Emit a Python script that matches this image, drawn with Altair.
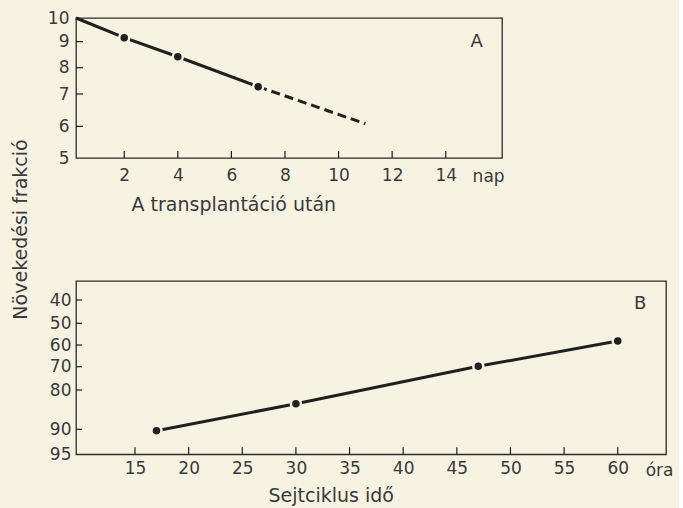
import altair as alt
import pandas as pd

# Panel A: growth fraction vs. days after transplantation
a_days_solid = [0.2, 2, 4, 7]
a_frac_solid = [10.0, 9.17, 8.42, 7.28]
a_days_dash = [7, 11]
a_frac_dash = [7.28, 6.08]
a_dot_days = [2, 4, 7]
a_dot_frac = [9.17, 8.42, 7.28]
a_x_ticks = [2, 4, 6, 8, 10, 12, 14]
a_y_labels = [5, 6, 7, 8, 9, 10]
a_y_ticks = [6, 7, 8, 9]

# Panel B: growth fraction vs. cell cycle time (hours)
b_hours = [17, 30, 47, 60]
b_frac = [90.3, 83.5, 69.8, 58.2]
b_x_ticks = [15, 20, 25, 30, 35, 40, 45, 50, 55, 60]
b_y_labels = [40, 50, 60, 70, 80, 90, 95]
b_y_ticks = [40, 50, 60, 70, 80, 90]

BG = "#f7f3e2"
INK = "#1f1f1f"
TXT = "#3a3a3a"
FONT = "DejaVu Sans"

# --- panel A -------------------------------------------------------------
WA, HA = 426, 140
xa = alt.Scale(domain=[0.2, 16.1], nice=False, zero=False)
# piecewise axis spacing of the ruled paper
ya = alt.Scale(domain=[5, 6, 7, 8, 9, 10],
               range=[140, 108.3, 76, 49.7, 23.7, 0], nice=False, zero=False)
xa_axis = alt.Axis(values=a_x_ticks, ticks=False, domain=False, grid=False,
                   labelPadding=9, title="A transplantáció után",
                   titleX=55, titleY=46, titleAlign="left",
                   titleBaseline="middle")
ya_axis = alt.Axis(values=a_y_labels, ticks=False, domain=False, grid=False,
                   labelPadding=7, title="Növekedési frakció",
                   titleX=-56, titleY=211, titleAngle=270, titleAlign="center",
                   titleBaseline="middle")
XA = dict(scale=xa, axis=xa_axis)
YA = dict(scale=ya, axis=ya_axis)

a_solid = pd.DataFrame({"nap": a_days_solid, "f": a_frac_solid})
a_dash = pd.DataFrame({"nap": a_days_dash, "f": a_frac_dash})
a_dots = pd.DataFrame({"nap": a_dot_days, "f": a_dot_frac})

a_line = alt.Chart(a_solid).mark_line(color=INK, strokeWidth=3).encode(
    x=alt.X("nap:Q", **XA), y=alt.Y("f:Q", **YA))
a_dashed = alt.Chart(a_dash).mark_line(
    color=INK, strokeWidth=3, strokeDash=[9, 5]).encode(
    x=alt.X("nap:Q", **XA), y=alt.Y("f:Q", **YA))
a_pts = alt.Chart(a_dots).mark_circle(
    size=100, color=INK, opacity=1, stroke=BG, strokeWidth=2.5).encode(
    x=alt.X("nap:Q", **XA), y=alt.Y("f:Q", **YA))
a_xt = alt.Chart(pd.DataFrame({"nap": a_x_ticks})).mark_rule(
    color=INK, strokeWidth=1.2).encode(
    x=alt.X("nap:Q", **XA), y=alt.value(HA), y2=alt.value(HA - 7))
a_yt = alt.Chart(pd.DataFrame({"f": a_y_ticks})).mark_rule(
    color=INK, strokeWidth=1.2).encode(
    y=alt.Y("f:Q", **YA), x=alt.value(0), x2=alt.value(7))
a_tag = alt.Chart(pd.DataFrame({"nap": [15.15], "f": [9.0], "t": ["A"]})).mark_text(
    font=FONT, fontSize=18, color=TXT).encode(
    x=alt.X("nap:Q", **XA), y=alt.Y("f:Q", **YA), text="t:N")
a_unit = alt.Chart(pd.DataFrame({"nap": [15.6], "t": ["nap"]})).mark_text(
    font=FONT, fontSize=17, color=TXT, baseline="middle").encode(
    x=alt.X("nap:Q", **XA), y=alt.value(HA + 19), text="t:N")
panel_a = alt.layer(a_line, a_dashed, a_pts, a_xt, a_yt, a_tag, a_unit).properties(
    width=WA, height=HA)

# --- panel B -------------------------------------------------------------
WB, HB = 590, 173.3
xb = alt.Scale(domain=[9.5, 64.5], nice=False, zero=False)
yb = alt.Scale(domain=[32, 40, 50, 60, 70, 80, 90, 95],
               range=[0, 19, 42.3, 64, 85.7, 109, 148.3, 173.3],
               nice=False, zero=False)
xb_axis = alt.Axis(values=b_x_ticks, ticks=False, domain=False, grid=False,
                   labelPadding=6, title="Sejtciklus idő",
                   titleX=192, titleY=41, titleAlign="left",
                   titleBaseline="middle")
yb_axis = alt.Axis(values=b_y_labels, ticks=False, domain=False, grid=False,
                   labelPadding=5, title=None)
XB = dict(scale=xb, axis=xb_axis)
YB = dict(scale=yb, axis=yb_axis)

b_df = pd.DataFrame({"ora": b_hours, "f": b_frac})

b_line = alt.Chart(b_df).mark_line(color=INK, strokeWidth=3).encode(
    x=alt.X("ora:Q", **XB), y=alt.Y("f:Q", **YB))
b_pts = alt.Chart(b_df).mark_circle(
    size=100, color=INK, opacity=1, stroke=BG, strokeWidth=2.5).encode(
    x=alt.X("ora:Q", **XB), y=alt.Y("f:Q", **YB))
b_xt = alt.Chart(pd.DataFrame({"ora": b_x_ticks})).mark_rule(
    color=INK, strokeWidth=1.2).encode(
    x=alt.X("ora:Q", **XB), y=alt.value(HB), y2=alt.value(HB - 7))
b_yt = alt.Chart(pd.DataFrame({"f": b_y_ticks})).mark_rule(
    color=INK, strokeWidth=1.2).encode(
    y=alt.Y("f:Q", **YB), x=alt.value(0), x2=alt.value(6))
b_tag = alt.Chart(pd.DataFrame({"ora": [62.1], "f": [41.8], "t": ["B"]})).mark_text(
    font=FONT, fontSize=18, color=TXT).encode(
    x=alt.X("ora:Q", **XB), y=alt.Y("f:Q", **YB), text="t:N")
b_unit = alt.Chart(pd.DataFrame({"ora": [63.9], "t": ["óra"]})).mark_text(
    font=FONT, fontSize=17, color=TXT, baseline="middle").encode(
    x=alt.X("ora:Q", **XB), y=alt.value(HB + 17), text="t:N")
panel_b = alt.layer(b_line, b_pts, b_xt, b_yt, b_tag, b_unit).properties(
    width=WB, height=HB)

chart = alt.vconcat(panel_a, panel_b, spacing=123, bounds="flush").properties(
    background=BG,
    padding={"left": 10, "top": 8, "right": 4, "bottom": 2},
).configure_view(
    stroke="#2b2b2b", strokeWidth=1.3, fill=None,
).configure_axis(
    labelFont=FONT, labelFontSize=17, labelColor=TXT,
    titleFont=FONT, titleFontSize=19, titleFontWeight="normal", titleColor=TXT,
)

chart.save("out.html", embed_options={"renderer": "svg", "actions": False})
